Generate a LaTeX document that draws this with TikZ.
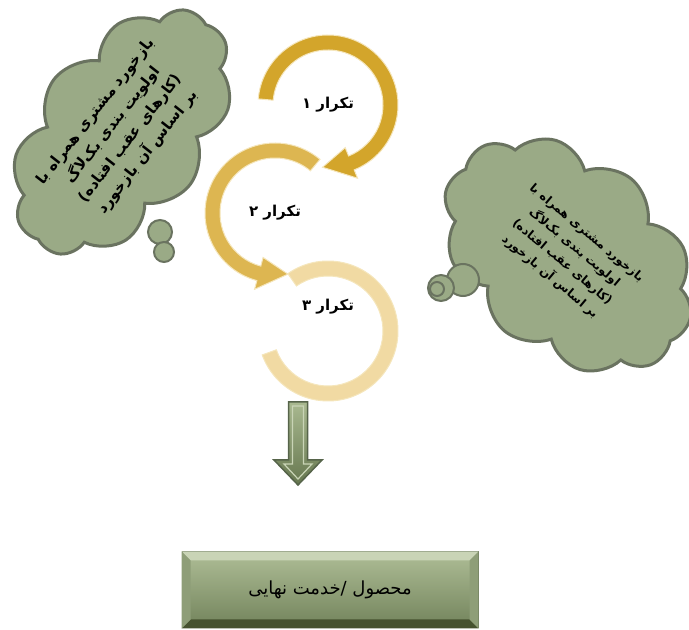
\documentclass[tikz,border=0pt]{standalone}
\usepackage{fontspec}
\newfontfamily\arabicfont[Script=Arabic]{DejaVu Sans}
\TeXXeTstate=1
\usetikzlibrary{calc}
\usetikzlibrary{positioning}
\usetikzlibrary{shapes.symbols}
\newcommand{\farsi}[1]{\beginR #1\endR}
\definecolor{cloudfill}{HTML}{9AAA86}
\definecolor{cloudline}{HTML}{6A7360}
\definecolor{goldA}{HTML}{D3A52B}
\definecolor{goldB}{HTML}{DDB651}
\definecolor{goldC}{HTML}{F1DAA3}
\definecolor{ringedge}{HTML}{F5E6BC}
\definecolor{arrowtop}{HTML}{A9B990}
\definecolor{arrowbot}{HTML}{66774F}
\definecolor{arrowline}{HTML}{56644A}
\definecolor{boxtop}{HTML}{AEBD96}
\definecolor{boxbot}{HTML}{72835B}
\definecolor{bevellight}{HTML}{C9D4B6}
\definecolor{beveldark}{HTML}{46522F}
\definecolor{bevelside}{HTML}{8E9E78}
\tikzset{thought/.style = {cloud, cloud puffs=10, cloud puff arc=120,
    fill=cloudfill, draw=cloudline, line width=3pt, inner sep=0pt}}
\tikzset{cloudtext/.style = {align=center, inner sep=0pt}}
\tikzset{bubble/.style = {circle, fill=cloudfill, draw=cloudline,
    line width=2pt, inner sep=0}}
\tikzset{itlabel/.style = {font=\arabicfont\bfseries\fontsize{15}{18}\selectfont}}
\tikzset{ringbody/.style = {draw=ringedge, line width=1pt}}
\tikzset{blockarrow/.style = {top color=arrowtop, bottom color=arrowbot,
    draw=arrowline, line width=1.5pt}}
\tikzset{goalbox/.style = {rectangle, minimum width=296pt, minimum height=76pt,
    top color=boxtop, bottom color=boxbot, draw=arrowline, line width=1pt,
    font=\arabicfont\fontsize{18}{20}\selectfont}}
% ring with an arrow head: centre, start, body end, tip, colour
\newcommand{\ringarrow}[5]{%
  \filldraw[ringbody, fill=#5]
    ($(#1)+(#2:70)$) arc[start angle=#2, end angle=#3, radius=70]
    -- ($(#1)+(#3:79)$) -- ($(#1)+(#4:62.5)$) -- ($(#1)+(#3:46)$)
    -- ($(#1)+(#3:55)$) arc[start angle=#3, end angle=#2, radius=55] -- cycle;}
% ring without a head: centre, start, end, colour
\newcommand{\ringplain}[4]{%
  \filldraw[ringbody, fill=#4]
    ($(#1)+(#2:70)$) arc[start angle=#2, end angle=#3, radius=70]
    -- ($(#1)+(#3:55)$) arc[start angle=#3, end angle=#2, radius=55] -- cycle;}

\begin{document}
\begin{tikzpicture}[x=1pt, y=1pt]
  \useasboundingbox (0,0) rectangle (689,630);
  % iterations
  \coordinate (c1) at (328,525);
  \coordinate (c2) at (275,417);
  \coordinate (c3) at (328,299);
  \ringplain{c3}{125}{-160}{goldC}
  \ringarrow{c2}{50}{255}{282}{goldB}
  \ringarrow{c1}{175}{-68}{-95}{goldA}
  \node[itlabel] (it1) at (c1) {\farsi{تکرار ۱}};
  \node[itlabel] (it2) at (c2) {\farsi{تکرار ۲}};
  \node[itlabel] (it3) at ([yshift=24]c3) {\farsi{تکرار ۳}};
  % feedback clouds
  \node[thought, rotate=52, minimum width=282, minimum height=172]
    (fb1) at (122,498) {};
  \node[cloudtext, rotate=52,
    font=\arabicfont\bfseries\fontsize{15}{22}\selectfont]
    (fb1text) at (fb1) {\farsi{بازخورد مشتری همراه با}\\
      \farsi{اولویت بندی بک‌لاگ}\\ \farsi{(کارهای عقب افتاده)}\\
      \farsi{بر اساس آن بازخورد}};
  \node[bubble, minimum size=24] (b1) at (160,398) {};
  \node[bubble, minimum size=20] (b2) at (164,378) {};
  \node[thought, rotate=-40, minimum width=282, minimum height=198]
    (fb2) at (568,375) {};
  \node[cloudtext, rotate=-40,
    font=\arabicfont\bfseries\fontsize{12}{19}\selectfont]
    (fb2text) at (fb2) {\farsi{بازخورد مشتری همراه با}\\
      \farsi{اولویت بندی بک‌لاگ}\\ \farsi{(کارهای عقب افتاده)}\\
      \farsi{بر اساس آن بازخورد}};
  \node[bubble, minimum size=32] (b3) at (463,350) {};
  \node[bubble, minimum size=26] (b4) at (441,342) {};
  \node[bubble, minimum size=14] (b5) at (437,341) {};
  % arrow down to the product
  \coordinate (dtop) at (298,228);
  \draw[blockarrow, shift={(dtop)}] (-9.5,0) -- (9.5,0) -- (9.5,-58)
    -- (24,-58) -- (0,-83) -- (-24,-58) -- (-9.5,-58) -- cycle;
  \draw[bevellight, line width=1.2pt, shift={(dtop)}] (-5.5,-4) -- (5.5,-4)
    -- (5.5,-62) -- (14,-62) -- (0,-77) -- (-14,-62) -- (-5.5,-62) -- cycle;
  % final product
  \node[goalbox] (goal) at (330,40) {\farsi{محصول /خدمت نهایی}};
  \fill[bevellight] (goal.north west) -- (goal.north east)
    -- ($(goal.north east)+(-9,-9)$) -- ($(goal.north west)+(9,-9)$) -- cycle;
  \fill[beveldark] (goal.south west) -- (goal.south east)
    -- ($(goal.south east)+(-9,9)$) -- ($(goal.south west)+(9,9)$) -- cycle;
  \fill[bevelside] (goal.north east) -- ($(goal.north east)+(-9,-9)$)
    -- ($(goal.south east)+(-9,9)$) -- (goal.south east) -- cycle;
  \fill[bevelside] (goal.north west) -- ($(goal.north west)+(9,-9)$)
    -- ($(goal.south west)+(9,9)$) -- (goal.south west) -- cycle;
\end{tikzpicture}
\end{document}
